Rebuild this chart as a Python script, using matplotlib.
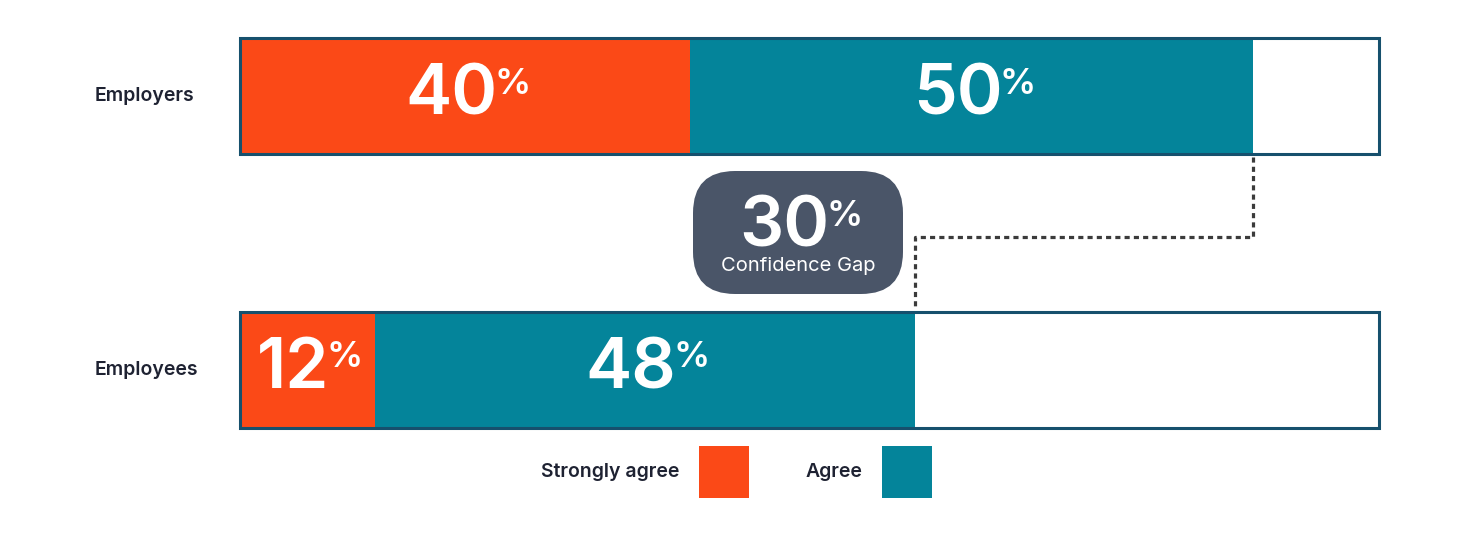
import matplotlib
matplotlib.use('Agg')
import matplotlib.pyplot as plt
import matplotlib.transforms as mtrans
from matplotlib.patches import FancyBboxPatch, Patch
from matplotlib.text import Annotation

groups = ["Employers", "Employees"]
strongly_agree = [40, 12]
agree = [50, 48]
gap_value = 30
gap_label = "Confidence Gap"
legend_labels = ["Strongly agree", "Agree"]

ORANGE = "#fb4917"
TEAL = "#04849a"
EDGE = "#16506d"
DARK = "#1e2232"
BUBBLE = "#4a5568"
DOTS = "#3b3b3b"

plt.rcParams['font.family'] = ['Inter', 'DejaVu Sans']

fig = plt.figure(figsize=(14.72, 5.35), dpi=100)
ax = fig.add_axes([240 / 1472, 0, 1139 / 1472, 1])
ax.set_xlim(0, 101.2)
ax.set_ylim(1.605, -0.351)
ax.axis('off')

ys = list(range(len(groups)))
h = 0.424
ax.barh(ys, strongly_agree, height=h, color=ORANGE, linewidth=0)
ax.barh(ys, agree, left=strongly_agree, height=h, color=TEAL, linewidth=0)
frame_w = ax.get_xlim()[1]
ax.barh(ys, [frame_w] * len(groups), height=h, fill=False, edgecolor=EDGE,
        linewidth=2.2, clip_on=False)


def add_pct(t):
    # small raised % sign right after a big number
    fig.add_artist(Annotation('%', xy=(1, 1), xycoords=t, xytext=(-2, -3),
                              textcoords='offset points', ha='left', va='top',
                              fontsize=26, fontweight='semibold', color='white'))


def big_pct(x, y, value):
    off = mtrans.ScaledTranslation(-0.14, 0, fig.dpi_scale_trans)
    t = ax.text(x, y, str(value), transform=ax.transData + off, ha='center', va='center',
                fontsize=50, fontweight='semibold', color='white')
    add_pct(t)


for i in ys:
    big_pct(strongly_agree[i] / 2, i, strongly_agree[i])
    big_pct(strongly_agree[i] + agree[i] / 2, i, agree[i])

lab_tr = mtrans.blended_transform_factory(fig.transFigure, ax.transData)
for i, g in enumerate(groups):
    ax.text(95 / 1472, i, g, transform=lab_tr, ha='left', va='center',
            fontsize=14, fontweight='semibold', color=DARK)

# dotted connector between the two totals
tot0 = strongly_agree[0] + agree[0]
tot1 = strongly_agree[1] + agree[1]
mid = 0.516
ax.plot([tot0, tot0, tot1, tot1], [h / 2 + 0.01, mid, mid, 1 - h / 2 - 0.02],
        color=DOTS, linewidth=2.3, linestyle=(0, (1.6, 1.3)), solid_joinstyle='miter',
        dash_capstyle='butt', clip_on=False)

# gap bubble
bx, by, bw, bh = 6.93, (535 - 294) / 100, 2.10, 1.23
bubble = FancyBboxPatch((bx, by), bw, bh, boxstyle="round,pad=0,rounding_size=0.42",
                        transform=fig.dpi_scale_trans, facecolor=BUBBLE, edgecolor='none')
fig.patches.append(bubble)
cx = bx + bw / 2
t = fig.text(cx - 0.14, (535 - 228) / 100, str(gap_value), transform=fig.dpi_scale_trans,
             ha='center', va='center', fontsize=50, fontweight='semibold', color='white')
add_pct(t)
fig.text(cx, (535 - 266) / 100, gap_label, transform=fig.dpi_scale_trans,
         ha='center', va='center', fontsize=14.5, color='white')

handles = [Patch(facecolor=ORANGE), Patch(facecolor=TEAL)]
leg = fig.legend(handles, legend_labels, loc='center', bbox_to_anchor=(736.5 / 1472, 1 - 472 / 535),
                 ncol=2, markerfirst=False, frameon=False, fontsize=14,
                 handlelength=2.57, handleheight=3.67, handletextpad=1.0,
                 columnspacing=2.9, borderpad=0)
for txt in leg.get_texts():
    txt.set_color(DARK)
    txt.set_fontweight('semibold')

fig.savefig('out.png', dpi=100, facecolor='white')
